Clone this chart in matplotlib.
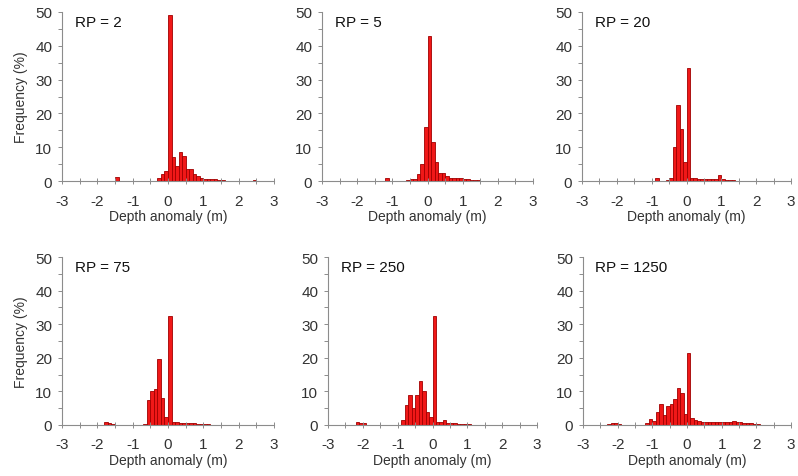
import numpy as np
import matplotlib
matplotlib.use('Agg')
from matplotlib import pyplot as plt
from matplotlib.ticker import MultipleLocator

plt.rcParams['font.family'] = ['Liberation Sans', 'DejaVu Sans']
plt.rcParams['axes.unicode_minus'] = False

# 数据: 每个 0.1 m 区间的左端 -> 频率 (%)
bin_width = 0.1
rp_labels = ['RP = 2', 'RP = 5', 'RP = 20', 'RP = 75', 'RP = 250', 'RP = 1250']

rp2_left = [-1.5, -0.3, -0.2, -0.1, 0.0, 0.1, 0.2, 0.3, 0.4, 0.5, 0.6, 0.7, 0.8, 0.9,
            1.0, 1.1, 1.2, 1.3, 1.4, 1.5, 1.6, 1.7, 1.8, 2.3, 2.4]
rp2_freq = [1.2, 1.0, 2.0, 3.0, 49.0, 7.0, 4.5, 8.5, 7.5, 3.5, 3.5, 2.0, 1.5, 1.0,
            0.7, 0.5, 0.5, 0.6, 0.4, 0.2, 0.1, 0.1, 0.1, 0.1, 0.2]

rp5_left = [-1.2, -0.6, -0.5, -0.4, -0.3, -0.2, -0.1, 0.0, 0.1, 0.2, 0.3, 0.4, 0.5, 0.6,
            0.7, 0.8, 0.9, 1.0, 1.1, 1.2, 1.3, 1.4, 1.5, 1.6, 2.5]
rp5_freq = [1.0, 0.3, 0.5, 0.5, 2.0, 5.0, 16.0, 43.0, 11.5, 5.5, 2.5, 2.5, 1.5, 1.0,
            0.8, 0.8, 0.9, 0.6, 0.5, 0.4, 0.3, 0.3, 0.1, 0.1, 0.1]

rp20_left = [-0.9, -0.6, -0.5, -0.4, -0.3, -0.2, -0.1, 0.0, 0.1, 0.2, 0.3, 0.4, 0.5, 0.6,
             0.7, 0.8, 0.9, 1.0, 1.1, 1.2, 1.3, 1.4, 1.5]
rp20_freq = [1.0, 0.3, 0.8, 10.0, 22.5, 15.5, 5.5, 33.5, 1.0, 1.0, 0.6, 0.5, 0.5, 0.5,
             0.5, 0.5, 1.8, 0.6, 0.3, 0.2, 0.2, 0.1, 0.1]

rp75_left = [-1.8, -1.7, -1.6, -0.8, -0.7, -0.6, -0.5, -0.4, -0.3, -0.2, -0.1, 0.0, 0.1, 0.2,
             0.3, 0.4, 0.5, 0.6, 0.7, 0.8, 0.9, 1.0, 1.1, 1.2]
rp75_freq = [0.8, 0.5, 0.4, 0.1, 0.3, 7.5, 10.0, 10.8, 19.5, 8.0, 2.5, 32.5, 1.0, 0.8,
             0.6, 0.5, 0.7, 0.5, 0.5, 0.4, 0.4, 0.4, 0.2, 0.1]

rp250_left = [-2.2, -2.1, -2.0, -0.9, -0.8, -0.7, -0.6, -0.5, -0.4, -0.3, -0.2, -0.1, 0.0, 0.1,
              0.2, 0.3, 0.4, 0.5, 0.6, 0.7, 0.8, 0.9, 1.0]
rp250_freq = [1.0, 0.6, 0.5, 1.5, 6.0, 9.0, 5.0, 9.0, 13.0, 10.0, 4.0, 2.5, 32.5, 0.8,
              0.8, 1.5, 0.7, 0.5, 0.5, 0.4, 0.4, 0.4, 0.4]

rp1250_left = [-2.3, -2.2, -2.1, -2.0, -1.2, -1.1, -1.0, -0.9, -0.8, -0.7, -0.6, -0.5, -0.4, -0.3,
               -0.2, -0.1, 0.0, 0.1, 0.2, 0.3, 0.4, 0.5, 0.6, 0.7, 0.8, 0.9, 1.0, 1.1, 1.2,
               1.3, 1.4, 1.5, 1.6, 1.7, 1.8, 1.9, 2.0, 2.1]
rp1250_freq = [0.4, 0.5, 0.5, 0.3, 0.5, 1.8, 1.2, 4.0, 6.3, 3.0, 5.8, 6.2, 7.8, 11.0,
               9.5, 3.2, 21.3, 2.0, 1.6, 1.2, 1.0, 1.0, 0.9, 1.0, 1.0, 1.0, 0.8, 0.8, 1.0,
               1.1, 0.8, 0.8, 0.6, 0.5, 0.5, 0.4, 0.3, 0.1]

data = [(rp2_left, rp2_freq), (rp5_left, rp5_freq), (rp20_left, rp20_freq),
        (rp75_left, rp75_freq), (rp250_left, rp250_freq), (rp1250_left, rp1250_freq)]

# 作图展示
fig = plt.figure(figsize=(7.98, 4.77), dpi=100)
W, H = 798.0, 477.0
# 每个子图的像素位置 (左, 右, 上(50), 下(0))
boxes = [(62, 274, 13, 182), (322, 533, 13, 182), (582, 791, 13, 182),
         (62, 274, 258, 426), (328, 537, 258, 426), (583, 791, 258, 426)]

txt = '#333333'
spine_c = '#8c8c8c'

for i, ((lefts, freqs), (x0, x1, yt, yb)) in enumerate(zip(data, boxes)):
    ax = fig.add_axes([x0 / W, 1 - yb / H, (x1 - x0) / W, (yb - yt) / H])
    ax.bar(lefts, freqs, width=bin_width, align='edge', color='#f01818',
           edgecolor='#a00000', linewidth=0.6)
    ax.set_xlim(-3, 3)
    ax.set_ylim(0, 50)
    for s in ['top', 'right']:
        ax.spines[s].set_visible(False)
    for s in ['left', 'bottom']:
        ax.spines[s].set_color(spine_c)
        ax.spines[s].set_linewidth(0.8)
    ax.xaxis.set_major_locator(MultipleLocator(1))
    ax.xaxis.set_minor_locator(MultipleLocator(0.5))
    ax.yaxis.set_major_locator(MultipleLocator(10))
    ax.yaxis.set_minor_locator(MultipleLocator(5))
    ax.tick_params(axis='x', which='both', direction='inout', length=4, width=0.7,
                   color=spine_c, labelsize=11, labelcolor=txt, pad=7)
    ax.tick_params(axis='y', which='both', direction='out', length=3, width=0.7,
                   color=spine_c, labelsize=11, labelcolor=txt, pad=4)
    ax.set_xlabel('Depth anomaly (m)', fontsize=10, color=txt, labelpad=1)
    if i % 3 == 0:
        ax.set_ylabel('Frequency (%)', fontsize=10, color=txt, labelpad=5)
    ax.text(0.06, 0.985, rp_labels[i], transform=ax.transAxes, fontsize=11,
            color='#111111', va='top', ha='left')

fig.savefig('out.png', dpi=100)
